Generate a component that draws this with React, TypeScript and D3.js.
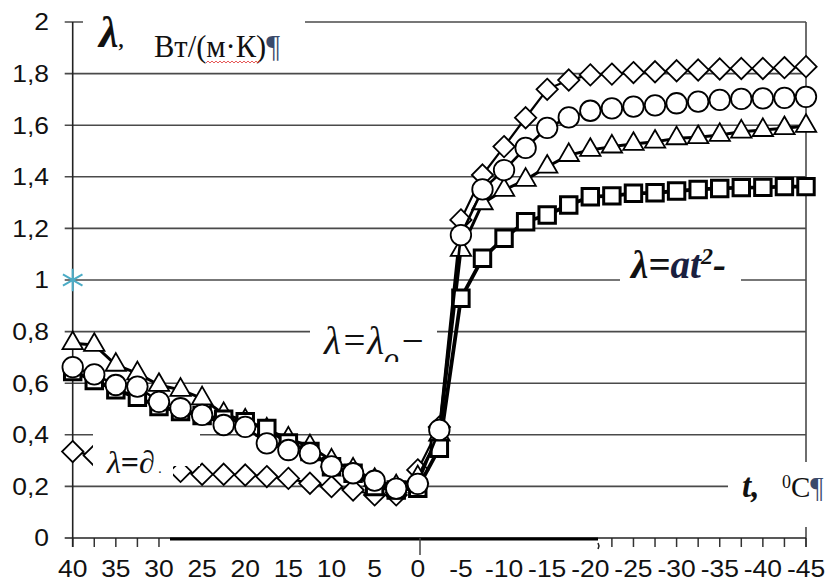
import React, { useEffect, useRef } from "react";
import * as d3 from "d3";

// temperature categories, °C (every 2.5 degrees, reversed axis)
const temps = [
  40, 37.5, 35, 32.5, 30, 27.5, 25, 22.5, 20, 17.5, 15, 12.5, 10, 7.5, 5, 2.5, 0,
  -2.5, -5, -7.5, -10, -12.5, -15, -17.5, -20, -22.5, -25, -27.5, -30, -32.5,
  -35, -37.5, -40, -42.5, -45,
];
const xTickLabels = [40, 35, 30, 25, 20, 15, 10, 5, 0, -5, -10, -15, -20, -25, -30, -35, -40, -45];
const yTickValues = [0, 0.2, 0.4, 0.6, 0.8, 1, 1.2, 1.4, 1.6, 1.8, 2];

// λ, Вт/(м·К)
const diamondValues = [
  0.335, 0.32, 0.3, 0.285, 0.27, 0.258, 0.247, 0.247, 0.244, 0.238, 0.231, 0.212,
  0.199, 0.186, 0.167, 0.167, 0.264, 0.43, 1.233, 1.407, 1.517, 1.629, 1.739, 1.775,
  1.795, 1.798, 1.804, 1.807, 1.811, 1.814, 1.818, 1.82, 1.82, 1.823, 1.827,
];
const triangleValues = [
  0.755, 0.748, 0.671, 0.638, 0.593, 0.574, 0.541, 0.48, 0.455, 0.42, 0.385, 0.355,
  0.3, 0.265, 0.225, 0.2, 0.235, 0.4, 1.116, 1.297, 1.349, 1.388, 1.439, 1.484,
  1.504, 1.517, 1.527, 1.536, 1.549, 1.553, 1.562, 1.575, 1.581, 1.588, 1.597,
];
const squareValues = [
  0.645, 0.61, 0.574, 0.545, 0.51, 0.49, 0.475, 0.46, 0.451, 0.425, 0.368, 0.335,
  0.276, 0.251, 0.199, 0.186, 0.193, 0.348, 0.929, 1.084, 1.162, 1.226, 1.252, 1.291,
  1.323, 1.326, 1.336, 1.338, 1.345, 1.351, 1.355, 1.358, 1.359, 1.362, 1.362,
];
const circleValues = [
  0.662, 0.634, 0.593, 0.587, 0.528, 0.503, 0.477, 0.438, 0.431, 0.367, 0.341, 0.328,
  0.278, 0.251, 0.222, 0.191, 0.21, 0.419, 1.174, 1.351, 1.426, 1.512, 1.59, 1.63,
  1.656, 1.665, 1.672, 1.677, 1.685, 1.691, 1.698, 1.702, 1.704, 1.706, 1.71,
];
const asteriskPoint = { t: 40, v: 1 };

const W = 829;
const H = 583;

const App = () => {
  const svgRef = useRef<SVGSVGElement>(null);

  useEffect(() => {
    const svg = d3.select(svgRef.current);
    svg.selectAll("*").remove();

    const x = d3.scaleLinear().domain([40, -45]).range([72.7, 806]);
    const y = d3.scaleLinear().domain([0, 2]).range([538, 22]);
    const x0 = x(40);
    const x1 = x(-45);

    svg.append("rect").attr("width", W).attr("height", H).attr("fill", "#fff");

    // gridlines + left ticks
    svg.selectAll("line.grid")
      .data(yTickValues.filter(d => d > 0))
      .join("line")
      .attr("x1", x0 - 8).attr("x2", x1)
      .attr("y1", d => y(d)).attr("y2", d => y(d))
      .attr("stroke", "#4a4a4a").attr("stroke-width", 1.6);

    // right border
    svg.append("line")
      .attr("x1", x1).attr("x2", x1).attr("y1", y(2)).attr("y2", y(0) + 9)
      .attr("stroke", "#4a4a4a").attr("stroke-width", 1.6);

    // x ticks
    svg.selectAll("line.xt")
      .data(temps)
      .join("line")
      .attr("x1", d => x(d)).attr("x2", d => x(d))
      .attr("y1", y(0)).attr("y2", y(0) + 9)
      .attr("stroke", "#333").attr("stroke-width", 1.5);

    // axes
    svg.append("line")
      .attr("x1", x0 - 8).attr("x2", x1).attr("y1", y(0)).attr("y2", y(0))
      .attr("stroke", "#222").attr("stroke-width", 1.6);
    svg.append("line")
      .attr("x1", x0).attr("x2", x0).attr("y1", y(2)).attr("y2", y(0) + 9)
      .attr("stroke", "#222").attr("stroke-width", 1.6);

    // tick labels
    svg.selectAll("text.yl")
      .data(yTickValues)
      .join("text")
      .attr("transform", d => `translate(49,${y(d) + 8.3}) scale(1.15,1)`)
      .attr("text-anchor", "end")
      .attr("font-family", "Liberation Sans, Arial, sans-serif")
      .attr("font-size", 23)
      .attr("fill", "#111")
      .text(d => String(d).replace(".", ","));

    svg.selectAll("text.xl")
      .data(xTickLabels)
      .join("text")
      .attr("transform", d => `translate(${x(d)},577) scale(1.15,1)`)
      .attr("text-anchor", "middle")
      .attr("font-family", "Liberation Sans, Arial, sans-serif")
      .attr("font-size", 23)
      .attr("fill", "#111")
      .text(d => String(d));

    // series
    const series = [
      { values: diamondValues, type: d3.symbolDiamond2, size: 290, lw: 2.2, mw: 1.8 },
      { values: triangleValues, type: d3.symbolTriangle, size: 180, lw: 3, mw: 1.8 },
      { values: squareValues, type: d3.symbolSquare, size: 270, lw: 3.8, mw: 3 },
      { values: circleValues, type: d3.symbolCircle, size: 330, lw: 2.6, mw: 1.8 },
    ];
    const line = d3.line<number>()
      .x((d, i) => x(temps[i]))
      .y(d => y(d));

    series.forEach(s => {
      const g = svg.append("g");
      g.append("path")
        .attr("d", line(s.values))
        .attr("fill", "none")
        .attr("stroke", "#000")
        .attr("stroke-width", s.lw)
        .attr("stroke-linejoin", "round");
      g.selectAll("path.m")
        .data(s.values)
        .join("path")
        .attr("class", "m")
        .attr("transform", (d, i) => `translate(${x(temps[i])},${y(d)})`)
        .attr("d", d3.symbol().type(s.type).size(s.size)())
        .attr("fill", "#fff")
        .attr("stroke", "#000")
        .attr("stroke-width", s.mw);
    });

    // blue asterisk
    svg.append("path")
      .attr("transform", `translate(${x(asteriskPoint.t)},${y(asteriskPoint.v)})`)
      .attr("d", d3.symbol().type(d3.symbolAsterisk).size(360)())
      .attr("fill", "none")
      .attr("stroke", "#4bacc6")
      .attr("stroke-width", 2);

    // white text boxes laid over the plot
    const box = (bx: number, by: number, bw: number, bh: number) =>
      svg.append("rect").attr("x", bx).attr("y", by).attr("width", bw).attr("height", bh).attr("fill", "#fff");
    box(83, 0, 222, 68);
    box(310, 312, 127, 50);
    box(93, 428, 80, 54);
    box(173, 428, 27, 38);
    box(620, 246, 121, 50);
    box(728, 462, 101, 65);
    box(170, 539.5, 428, 14);

    // thick border of the bottom box
    svg.append("line")
      .attr("x1", 170).attr("x2", 598).attr("y1", 539).attr("y2", 539)
      .attr("stroke", "#000").attr("stroke-width", 3);
    svg.append("line")
      .attr("x1", 420).attr("x2", 420).attr("y1", 538).attr("y2", 555)
      .attr("stroke", "#444").attr("stroke-width", 1.5);
    svg.append("path")
      .attr("d", "M598,543 l1,3 l-1,3")
      .attr("fill", "none").attr("stroke", "#222").attr("stroke-width", 1.5);

    const serif = "Liberation Serif, Times New Roman, serif";

    // y axis title
    const t1 = svg.append("text").attr("x", 99).attr("y", 47)
      .attr("font-family", serif).attr("fill", "#111");
    t1.append("tspan").attr("font-size", 44).attr("font-style", "italic").attr("font-weight", "bold").text("λ");
    t1.append("tspan").attr("font-size", 20).attr("font-weight", "bold").text(",");
    t1.append("tspan").attr("x", 154).attr("y", 57).attr("font-size", 30.5).text("Вт/(м·К)");
    t1.append("tspan").attr("font-size", 30.5).attr("fill", "#3a4a6a").text("¶");
    svg.append("path")
      .attr("d", d3.range(0, 28).map(k => `${k === 0 ? "M" : "L"}${206 + k * 2},${k % 2 ? 61 : 63}`).join(""))
      .attr("fill", "none").attr("stroke", "#e03030").attr("stroke-width", 0.8);

    // formula labels
    const clip = svg.append("clipPath").attr("id", "c1");
    clip.append("rect").attr("x", 310).attr("y", 312).attr("width", 127).attr("height", 50);
    const t2 = svg.append("text").attr("x", 324).attr("y", 354)
      .attr("font-family", serif).attr("font-style", "italic").attr("font-size", 39)
      .attr("fill", "#111").attr("clip-path", "url(#c1)");
    t2.append("tspan").text("λ=λ");
    t2.append("tspan").attr("dy", 14).attr("font-size", 30).text("o");
    t2.append("tspan").attr("dy", -14).attr("font-size", 39).text("−");

    const t3 = svg.append("text").attr("x", 107).attr("y", 473)
      .attr("font-family", serif).attr("font-style", "italic").attr("font-size", 32).attr("fill", "#111");
    t3.append("tspan").text("λ");
    t3.append("tspan").attr("font-weight", "bold").attr("font-style", "normal").text("=");
    t3.append("tspan").text("∂");
    t3.append("tspan").attr("font-size", 14).text(" .");

    const t4 = svg.append("text").attr("x", 631).attr("y", 278)
      .attr("font-family", serif).attr("font-style", "italic").attr("font-weight", "bold")
      .attr("font-size", 39).attr("fill", "#111");
    t4.append("tspan").text("λ=");
    t4.append("tspan").attr("fill", "#1a2040").text("at");
    t4.append("tspan").attr("dy", -14).attr("font-size", 24).text("2");
    t4.append("tspan").attr("dy", 14).attr("font-size", 39).text("-");

    const t5 = svg.append("text").attr("x", 742).attr("y", 497)
      .attr("font-family", serif).attr("fill", "#111");
    t5.append("tspan").attr("font-style", "italic").attr("font-weight", "bold").attr("font-size", 33).text("t,");
    t5.append("tspan").attr("x", 782).attr("y", 488).attr("font-size", 18).text("0");
    t5.append("tspan").attr("y", 497).attr("font-size", 29).text("C");
    t5.append("tspan").attr("font-size", 29).attr("fill", "#3a4a6a").text("¶");
  }, []);

  return (
    <svg
      ref={svgRef}
      width={W}
      height={H}
      style={{ position: "absolute", left: 0, top: 0 }}
    />
  );
};

export default App;
